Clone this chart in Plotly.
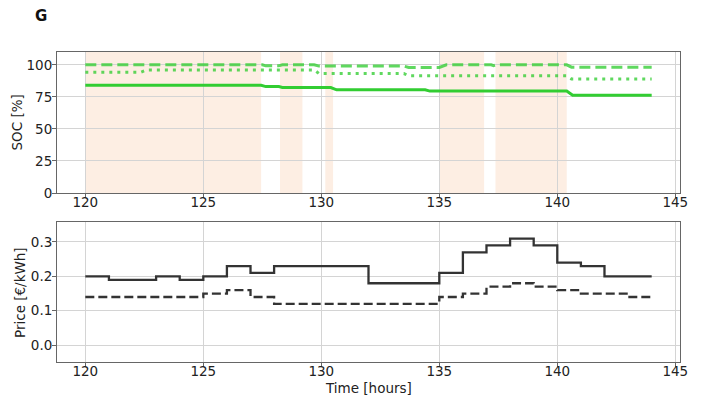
import plotly.graph_objects as go

# ---------------- data ----------------
# SOC breakpoints (hours, %)
soc_t = [120, 127.45, 127.65, 128.2, 128.35, 130.4, 130.65, 134.4, 134.6, 140.4, 140.65, 144]
soc_v = [84, 84, 83, 83, 82.3, 82.3, 80.5, 80.5, 79.5, 79.5, 76.2, 76.2]

soc_max_t = [120, 127.5, 127.65, 128.2, 128.35, 129.7, 129.9, 133.5, 133.7, 135.0, 135.3, 137.2, 137.3, 137.4, 140.4, 140.6, 144]
soc_max_v = [100, 100, 99.2, 99.2, 100, 100, 99, 99, 98, 98, 100, 100, 99.3, 100, 100, 98.2, 98.2]

soc_min_t = [120, 122.35, 122.6, 129.7, 129.9, 133.5, 133.7, 140.4, 140.6, 144]
soc_min_v = [94.2, 94.2, 96, 96, 93.2, 93.2, 91.4, 91.4, 89, 89]

# shaded intervals (hours)
span_start = [120.0, 128.25, 130.17, 135.0, 137.38]
span_end = [127.45, 129.2, 130.5, 136.9, 140.4]

# hourly prices (step, value held from t to t+1)
price_t = list(range(120, 145))
buy_price = [0.20, 0.19, 0.19, 0.20, 0.19, 0.20, 0.23, 0.21, 0.23, 0.23, 0.23, 0.23,
             0.18, 0.18, 0.18, 0.21, 0.27, 0.29, 0.31, 0.29, 0.24, 0.23, 0.20, 0.20, 0.20]
sell_price = [0.14, 0.14, 0.14, 0.14, 0.14, 0.15, 0.16, 0.14, 0.12, 0.12, 0.12, 0.12,
              0.12, 0.12, 0.12, 0.14, 0.15, 0.17, 0.18, 0.17, 0.16, 0.15, 0.15, 0.14, 0.14]

x_ticks = [120, 125, 130, 135, 140, 145]
soc_ticks = [0, 25, 50, 75, 100]
price_ticks = [0.0, 0.1, 0.2, 0.3]

# ---------------- figure ----------------
FONT = "DejaVu Sans"
GREEN = "#32cd32"
GREEN_L = "rgba(50,205,50,0.78)"
DARK = "#333333"

fig = go.Figure()

fig.add_trace(go.Scatter(x=soc_max_t, y=soc_max_v, mode="lines", xaxis="x", yaxis="y",
                         line=dict(color=GREEN_L, width=3, dash="11px,5px"), showlegend=False))
fig.add_trace(go.Scatter(x=soc_min_t, y=soc_min_v, mode="lines", xaxis="x", yaxis="y",
                         line=dict(color=GREEN_L, width=3, dash="3px,5px"), showlegend=False))
fig.add_trace(go.Scatter(x=soc_t, y=soc_v, mode="lines", xaxis="x", yaxis="y",
                         line=dict(color=GREEN, width=3), showlegend=False))

fig.add_trace(go.Scatter(x=price_t, y=buy_price, mode="lines", line_shape="hv", xaxis="x2", yaxis="y2",
                         line=dict(color=DARK, width=2.3), showlegend=False))
fig.add_trace(go.Scatter(x=price_t, y=sell_price, mode="lines", line_shape="hv", xaxis="x2", yaxis="y2",
                         line=dict(color=DARK, width=2.3, dash="9px,4px"), showlegend=False))

shapes = []
for s, e in zip(span_start, span_end):
    shapes.append(dict(type="rect", xref="x", yref="y", x0=s, x1=e, y0=0, y1=110,
                       fillcolor="#fdeee3", line=dict(width=0), layer="below"))

axis_common = dict(
    range=[118.8, 145.2], tickvals=x_ticks, showgrid=True, gridcolor="#d4d4d4", gridwidth=1,
    showline=True, linecolor="#666666", linewidth=1, mirror=True, ticks="outside", ticklen=4,
    tickcolor="#666666", tickfont=dict(family=FONT, size=13.5, color="#222222"), zeroline=False,
    ticklabelstandoff=-7,
)
yaxis_common = dict(
    showgrid=True, gridcolor="#d4d4d4", showline=True, linecolor="#666666", mirror=True,
    ticks="outside", ticklen=4, tickcolor="#666666", zeroline=False,
    tickfont=dict(family=FONT, size=13.5, color="#222222"), ticklabelstandoff=-3,
)

fig.update_layout(
    width=708, height=401,
    margin=dict(l=57, r=28, t=52, b=39),
    paper_bgcolor="white", plot_bgcolor="white",
    shapes=shapes,
    xaxis=dict(domain=[0, 1], anchor="y", **axis_common),
    yaxis=dict(domain=[0.545, 1], anchor="x", range=[0, 110], tickvals=soc_ticks, **yaxis_common),
    xaxis2=dict(domain=[0, 1], anchor="y2", **axis_common),
    yaxis2=dict(domain=[0, 0.4526], anchor="x2", range=[-0.049, 0.359], tickvals=price_ticks,
                tickformat=".1f", **yaxis_common),
    annotations=[
        dict(text="<b>G</b>", xref="paper", yref="paper", x=-0.0257, y=1.116,
             xanchor="center", yanchor="middle", showarrow=False,
             font=dict(family=FONT, size=15, color="#111111")),
        dict(text="SOC [%]", xref="paper", yref="paper", x=-0.0642, y=0.7726, textangle=-90,
             xanchor="center", yanchor="middle", showarrow=False,
             font=dict(family=FONT, size=13.5, color="#222222")),
        dict(text="Price [€/kWh]", xref="paper", yref="paper", x=-0.0594, y=0.2258, textangle=-90,
             xanchor="center", yanchor="middle", showarrow=False,
             font=dict(family=FONT, size=13.5, color="#222222")),
        dict(text="Time [hours]", xref="paper", yref="paper", x=0.5, y=-0.0839,
             xanchor="center", yanchor="middle", showarrow=False,
             font=dict(family=FONT, size=13.5, color="#222222")),
    ],
)

fig.write_html("out.html")
